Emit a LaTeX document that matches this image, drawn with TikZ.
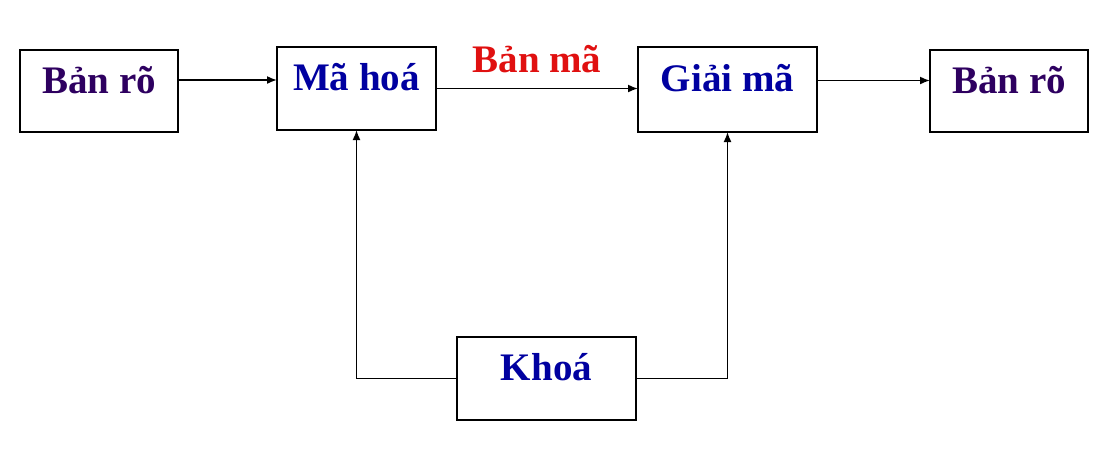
\documentclass[tikz,border=0pt]{standalone}
\usepackage{fontspec}
\setmainfont{Liberation Serif}
\usepackage{tikz}
\usetikzlibrary{arrows.meta,calc,positioning}
\definecolor{plainpurple}{HTML}{2E0060}
\definecolor{stepblue}{HTML}{0000A0}
\definecolor{cipherred}{HTML}{E01010}
\tikzset{
	cipher diagram/.style={
		x=1pt, y=-1pt,
		ar/.style={draw, line width=1.6pt, -{Latex[length=10pt,width=8pt]}},
		wire/.style={draw, line width=1.6pt}
		},
	blk/.style 2 args={draw, line width=1.8pt, minimum width=#1, minimum height=#2,
		inner sep=0pt, outer sep=0pt, text height=30pt, text depth=26pt,
		font=\fontsize{39}{40}\selectfont\bfseries},
	plain/.style={text=plainpurple},
	step box/.style={text=stepblue}
}

\begin{document}
\begin{tikzpicture}[cipher diagram]
   \useasboundingbox (0,0) rectangle (1107,456);
   \node[blk={158pt}{82pt}, plain] (src) at (99,91) {Bản rõ};
   \node[blk={159pt}{83pt}, step box] (enc) at (356.5,88.5) {Mã hoá};
   \node[blk={179pt}{85pt}, step box] (dec) at (727.5,89.5) {Giải mã};
   \node[blk={158pt}{82pt}, plain] (dst) at (1009,91) {Bản rõ};
   \node[blk={179pt}{83pt}, step box] (key) at (546.5,378.5) {Khoá};
   \draw[ar] ([yshift=11pt]src.east) -- ([yshift=11pt]src.east -| enc.west);
   \draw[ar] (enc.east) -- node[above=15pt, inner sep=0pt, text=cipherred,
      font=\fontsize{39}{40}\selectfont\bfseries] (cipher) {Bản mã} (enc.east -| dec.west);
   \draw[ar] ([yshift=9pt]dec.east) -- ([yshift=9pt]dec.east -| dst.west);
   \draw[ar] (key.west) -| (enc.south);
   \draw[ar] (key.east) -| (dec.south);
\end{tikzpicture}
\end{document}
